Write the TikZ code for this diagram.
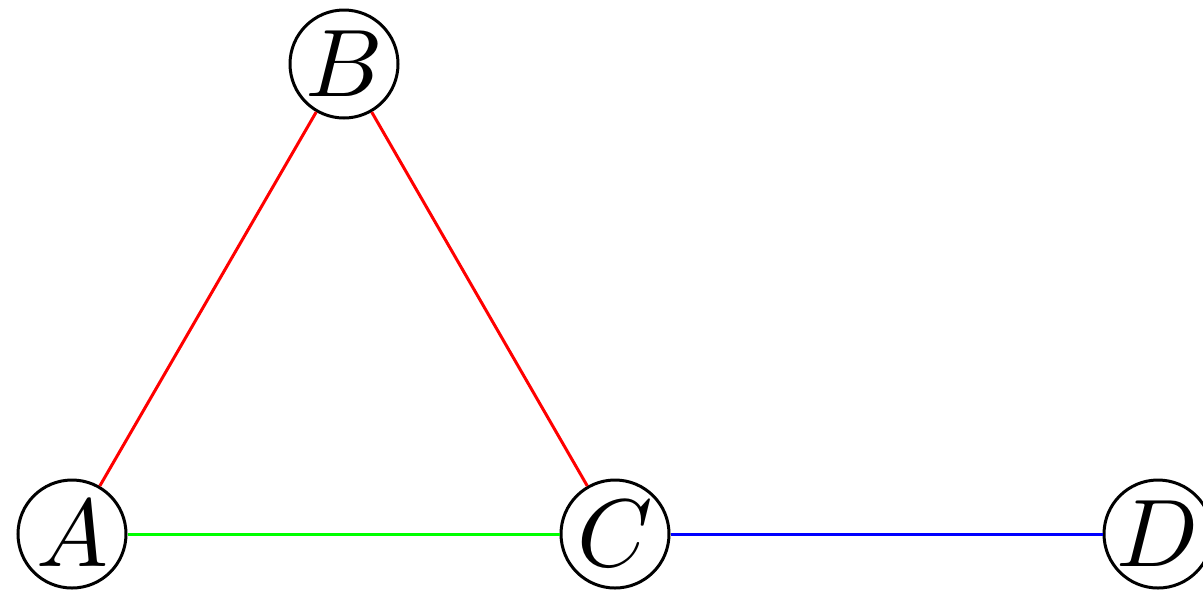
\documentclass[tikz,border=0pt]{standalone}
\usepackage{graphicx}
\definecolor{edgegreen}{RGB}{0,255,0}
\newcommand{\biglabel}[1]{\scalebox{4.8}{$#1$}}
\begin{document}
\begin{tikzpicture}[x=0.5pt,y=-0.5pt,
  vert/.style={circle,draw,line width=1.5pt,minimum size=54pt,inner sep=0pt},
  edge/.style={line width=1.5pt}]
\useasboundingbox (0,0) rectangle (1203,591);
\node[vert] (A) at (72,534) {\biglabel{A}};
\node[vert] (B) at (344,64) {\biglabel{B}};
\node[vert] (C) at (615,534) {\biglabel{C}};
\node[vert] (D) at (1158,534) {\biglabel{D}};
\draw[edge,red] (A) -- (B);
\draw[edge,red] (B) -- (C);
\draw[edge,edgegreen] (A) -- (C);
\draw[edge,blue] (C) -- (D);
\end{tikzpicture}
\end{document}
